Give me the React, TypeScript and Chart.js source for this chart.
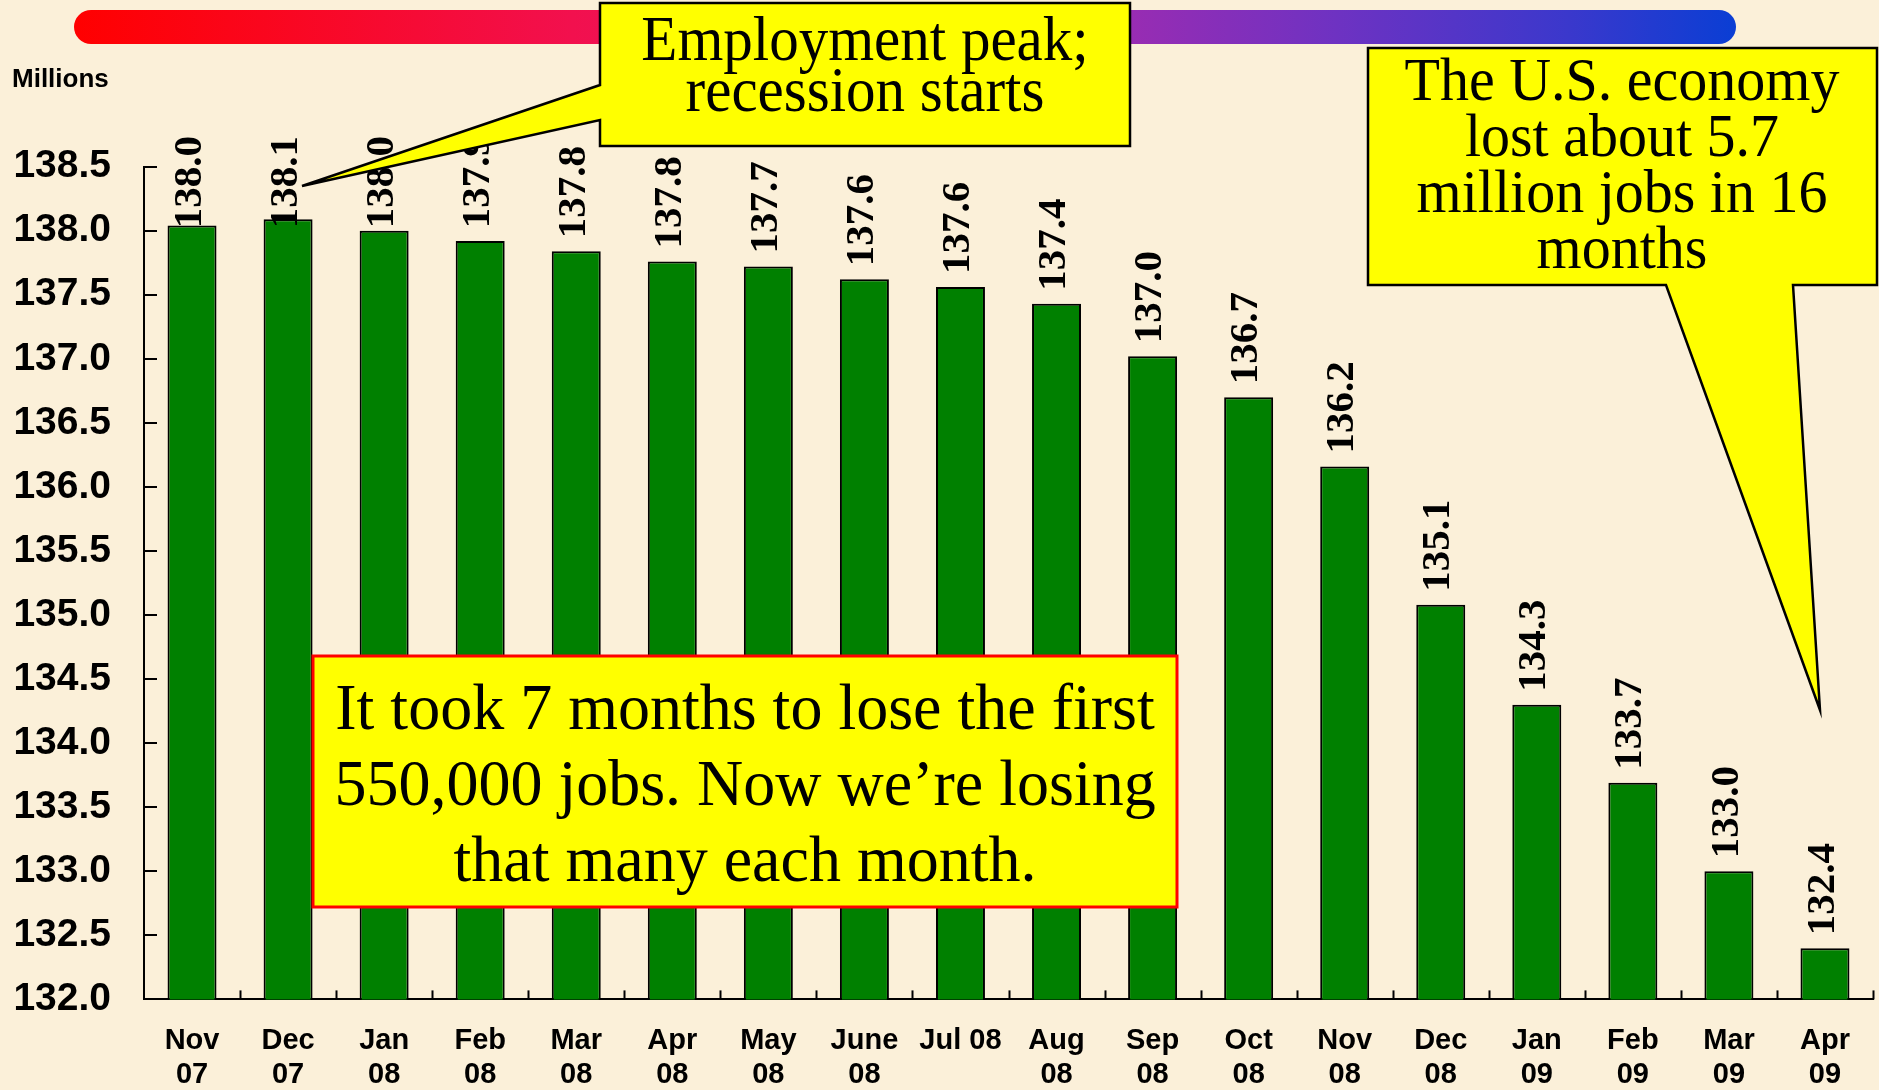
import React, { useEffect, useRef } from 'react';
import { Chart, registerables } from 'chart.js';

Chart.register(...registerables);

// ---------- data ----------
const categories: (string | string[])[] = [
  ['Nov', '07'], ['Dec', '07'], ['Jan', '08'], ['Feb', '08'], ['Mar', '08'], ['Apr', '08'],
  ['May', '08'], ['June', '08'], 'Jul 08', ['Aug', '08'], ['Sep', '08'], ['Oct', '08'],
  ['Nov', '08'], ['Dec', '08'], ['Jan', '09'], ['Feb', '09'], ['Mar', '09'], ['Apr', '09'],
];
const employment = [
  138.04, 138.09, 138.0, 137.92, 137.84, 137.76, 137.72, 137.62, 137.56,
  137.43, 137.02, 136.7, 136.16, 135.08, 134.3, 133.69, 133.0, 132.4,
];
const yMin = 132.0;
const yMax = 138.5;
const yStep = 0.5;
const unitLabel = 'Millions';
const peakCallout = ['Employment peak;', 'recession starts'];
const totalCallout = ['The U.S. economy', 'lost about 5.7', 'million jobs in 16', 'months'];
const paceCallout = [
  'It took 7 months to lose the first',
  '550,000 jobs. Now we\u2019re losing',
  'that many each month.',
];

const W = 1879;
const H = 1090;
const SANS = '"Liberation Sans", Arial, Helvetica, sans-serif';
const SERIF = '"Liberation Serif", "Times New Roman", Times, serif';

function polygon(ctx: CanvasRenderingContext2D, pts: number[][]) {
  ctx.beginPath();
  pts.forEach(([x, y], i) => (i ? ctx.lineTo(x, y) : ctx.moveTo(x, y)));
  ctx.closePath();
}

function drawLines(
  ctx: CanvasRenderingContext2D,
  lines: string[],
  cx: number,
  firstBase: number,
  step: number,
  font: string,
  sy: number,
) {
  ctx.font = font;
  ctx.fillStyle = '#000';
  ctx.textAlign = 'center';
  ctx.textBaseline = 'alphabetic';
  lines.forEach((t, i) => {
    ctx.save();
    ctx.translate(cx, firstBase + i * step);
    ctx.scale(1, sy);
    ctx.fillText(t, 0, 0);
    ctx.restore();
  });
}

export default function App() {
  const ref = useRef<HTMLCanvasElement>(null);

  useEffect(() => {
    document.body.style.margin = '0';
    const canvas = ref.current!;

    const backgroundPlugin = {
      id: 'bgDecor',
      beforeDraw(chart: any) {
        const ctx: CanvasRenderingContext2D = chart.ctx;
        ctx.save();
        ctx.fillStyle = '#fbf0d9';
        ctx.fillRect(0, 0, W, H);
        const g = ctx.createLinearGradient(74, 0, 1736, 0);
        g.addColorStop(0, '#ff0000');
        g.addColorStop(0.3, '#f2104e');
        g.addColorStop(0.48, '#e01a6a');
        g.addColorStop(0.63, '#9a2cb2');
        g.addColorStop(0.76, '#6e32c2');
        g.addColorStop(0.9, '#3a38cc');
        g.addColorStop(1, '#0a3ed4');
        ctx.fillStyle = g;
        ctx.beginPath();
        (ctx as any).roundRect(74, 10, 1662, 34, 17);
        ctx.fill();
        ctx.fillStyle = '#000';
        ctx.font = `bold 26px ${SANS}`;
        ctx.textAlign = 'left';
        ctx.textBaseline = 'alphabetic';
        ctx.fillText(unitLabel, 12, 87);
        ctx.restore();
      },
    };

    const labelsPlugin = {
      id: 'valueLabels',
      afterDatasetsDraw(chart: any) {
        const ctx: CanvasRenderingContext2D = chart.ctx;
        const xs = chart.scales.x;
        const ys = chart.scales.y;
        const area = chart.chartArea;
        ctx.save();
        // inward tick marks
        ctx.strokeStyle = '#000';
        ctx.lineWidth = 2;
        const half = (xs.getPixelForValue(1) - xs.getPixelForValue(0)) / 2;
        for (let k = 1; k <= categories.length; k++) {
          const x = Math.round(xs.getPixelForValue(k) - half) + 0.5;
          ctx.beginPath();
          ctx.moveTo(x, area.bottom);
          ctx.lineTo(x, area.bottom - 9);
          ctx.stroke();
        }
        ys.ticks.forEach((t: any) => {
          const y = Math.round(ys.getPixelForValue(t.value));
          ctx.beginPath();
          ctx.moveTo(area.left, y);
          ctx.lineTo(area.left + 13, y);
          ctx.stroke();
        });
        // rotated value labels
        ctx.font = `bold 41px ${SERIF}`;
        ctx.fillStyle = '#000';
        const meta = chart.getDatasetMeta(0);
        meta.data.forEach((bar: any, i: number) => {
          const text = employment[i].toFixed(1);
          const w = ctx.measureText(text).width;
          const start = Math.max(bar.y - 13, 136 + w);
          ctx.save();
          ctx.translate(bar.x - 2, start);
          ctx.rotate(-Math.PI / 2);
          ctx.textAlign = 'left';
          ctx.textBaseline = 'middle';
          ctx.fillText(text, 0, 0);
          ctx.restore();
        });
        ctx.restore();
      },
    };

    const calloutPlugin = {
      id: 'callouts',
      afterDraw(chart: any) {
        const ctx: CanvasRenderingContext2D = chart.ctx;
        ctx.save();
        ctx.lineJoin = 'miter';
        // peak callout
        polygon(ctx, [[600, 3], [1130, 3], [1130, 146], [600, 146], [600, 120], [302, 186], [600, 85]]);
        ctx.fillStyle = '#ffff00';
        ctx.fill();
        ctx.strokeStyle = '#000';
        ctx.lineWidth = 2.5;
        ctx.stroke();
        drawLines(ctx, peakCallout, 865, 60, 51, `59px ${SERIF}`, 1.08);
        // total callout
        polygon(ctx, [[1368, 48], [1877, 48], [1877, 285], [1793, 285], [1820, 710], [1666, 285], [1368, 285]]);
        ctx.fillStyle = '#ffff00';
        ctx.fill();
        ctx.strokeStyle = '#000';
        ctx.lineWidth = 2.5;
        ctx.stroke();
        drawLines(ctx, totalCallout, 1622, 100, 56, `58px ${SERIF}`, 1.05);
        // pace box
        ctx.fillStyle = '#ffff00';
        ctx.fillRect(313, 656, 864, 251);
        ctx.strokeStyle = '#ff0000';
        ctx.lineWidth = 3;
        ctx.strokeRect(313, 656, 864, 251);
        drawLines(ctx, paceCallout, 745, 729, 76, `64px ${SERIF}`, 1.03);
        ctx.restore();
      },
    };

    const chart = new Chart(canvas, {
      type: 'bar',
      data: {
        labels: categories,
        datasets: [
          {
            data: employment,
            backgroundColor: '#008000',
            borderColor: '#000000',
            borderWidth: 2,
            barPercentage: 0.51,
            categoryPercentage: 1,
          },
        ],
      },
      options: {
        responsive: false,
        animation: false,
        devicePixelRatio: 1,
        layout: { padding: { top: 166.6, right: 6, left: 0, bottom: 0 } },
        plugins: { legend: { display: false }, tooltip: { enabled: false } },
        scales: {
          x: {
            grid: { display: false, drawTicks: false },
            border: { display: true, color: '#000', width: 2 },
            ticks: {
              color: '#000',
              autoSkip: false,
              maxRotation: 0,
              minRotation: 0,
              padding: 24.6,
              font: { family: SANS, size: 29, weight: 'bold', lineHeight: '34px' } as any,
            },
            afterFit(scale: any) {
              scale.height = 90.6;
            },
          },
          y: {
            min: yMin,
            max: yMax,
            grid: { display: false, drawTicks: false },
            border: { display: true, color: '#000', width: 2 },
            ticks: {
              stepSize: yStep,
              color: '#000',
              padding: 33,
              autoSkip: false,
              font: { family: SANS, size: 39, weight: 'bold' },
              callback: (v: any) => Number(v).toFixed(1),
            },
            afterFit(scale: any) {
              scale.width = 144;
            },
          },
        },
      },
      plugins: [backgroundPlugin, labelsPlugin, calloutPlugin],
    } as any);

    return () => chart.destroy();
  }, []);

  return (
    <div style={{ width: W, height: H }}>
      <canvas ref={ref} width={W} height={H} style={{ display: 'block', width: W, height: H }} />
    </div>
  );
}
